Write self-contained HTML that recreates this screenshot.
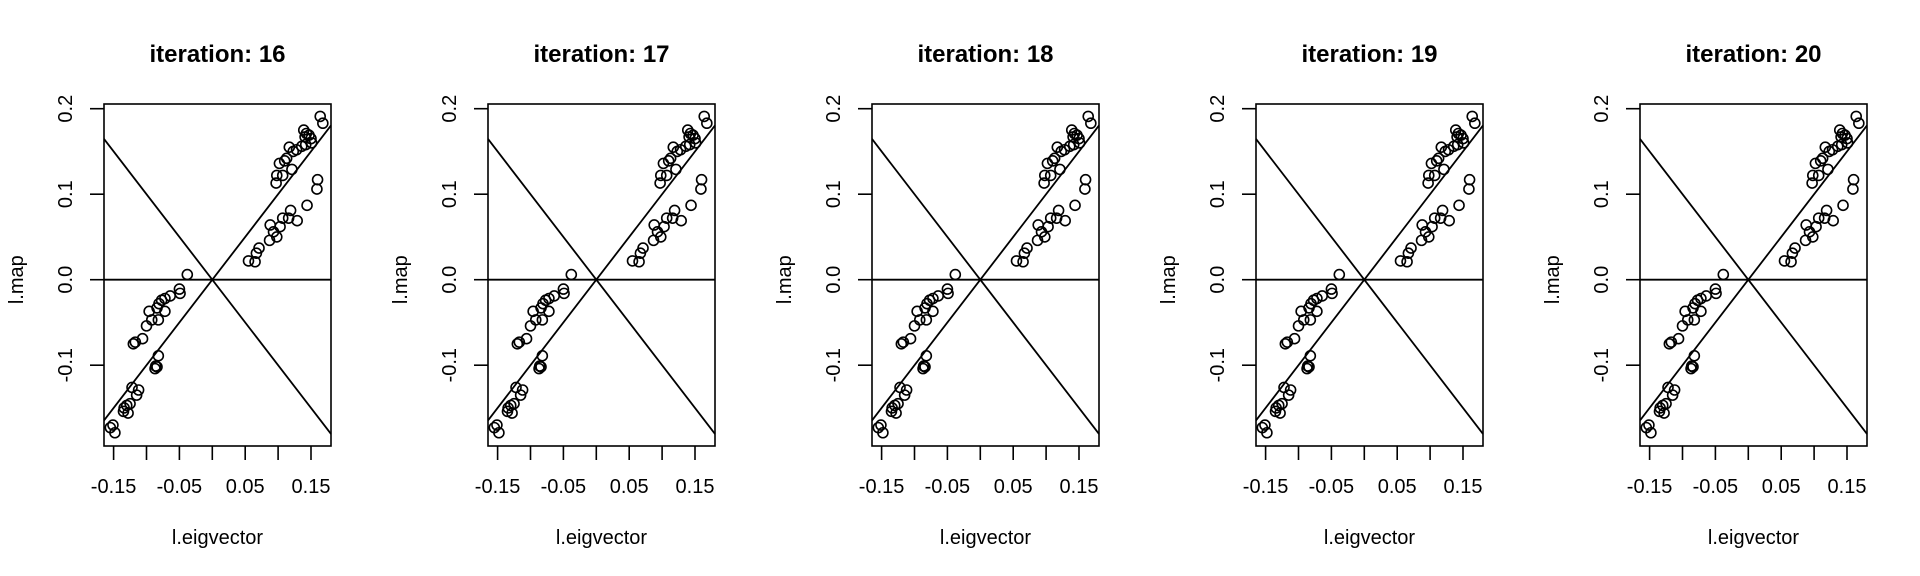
<!DOCTYPE html>
<html><head><meta charset="utf-8"><style>
html,body{margin:0;padding:0;background:#fff;width:1920px;height:576px;overflow:hidden}
svg{display:block}
text{font-family:"Liberation Sans",Arial,sans-serif;fill:#000}
</style></head><body>
<svg id="chart" width="1920" height="576" viewBox="0 0 1920 576" xmlns="http://www.w3.org/2000/svg"></svg>
<script>
const iterations = [16, 17, 18, 19, 20];
const xTicks = [-0.15, -0.10, -0.05, 0.00, 0.05, 0.10, 0.15];
const xTickLabels = ["-0.15", "", "-0.05", "", "0.05", "", "0.15"];
const yTicks = [-0.1, 0.0, 0.1, 0.2];
const yTickLabels = ["-0.1", "0.0", "0.1", "0.2"];
const eigX = [0.164,0.168,0.139,0.143,0.147,0.141,0.150,0.136,0.142,0.151,0.117,0.123,0.128,0.113,0.102,0.110,0.121,0.098,0.107,0.097,0.160,0.159,0.144,0.119,0.129,0.116,0.107,0.103,0.088,0.093,0.098,0.087,0.071,0.067,0.055,0.065,
 -0.038,
 -0.050,-0.049,-0.064,-0.072,-0.077,-0.081,-0.084,-0.072,-0.096,-0.092,-0.082,-0.100,-0.106,-0.117,-0.120,-0.082,-0.086,-0.087,-0.084,
 -0.122,-0.112,-0.115,-0.130,-0.125,-0.135,-0.128,-0.134,-0.151,-0.148,-0.155];
const mapY = [0.191,0.183,0.175,0.171,0.169,0.167,0.165,0.156,0.158,0.160,0.155,0.150,0.152,0.142,0.136,0.139,0.129,0.122,0.122,0.113,0.117,0.106,0.087,0.081,0.069,0.072,0.072,0.062,0.064,0.056,0.050,0.046,0.037,0.031,0.022,0.021,
 0.006,
 -0.011,-0.016,-0.019,-0.022,-0.024,-0.028,-0.033,-0.037,-0.037,-0.047,-0.047,-0.054,-0.069,-0.073,-0.075,-0.089,-0.101,-0.104,-0.102,
 -0.126,-0.129,-0.135,-0.147,-0.145,-0.154,-0.156,-0.150,-0.170,-0.179,-0.173];

const NS = "http://www.w3.org/2000/svg";
const svg = document.getElementById("chart");
function mk(tag, attrs, parent){const e=document.createElementNS(NS,tag);for(const k in attrs)e.setAttribute(k,attrs[k]);parent.appendChild(e);return e;}

const L=104,R=331,T=104,B=446;
const x0=212.3, xs=658, y0=279.7, ys=855;
const xMin=(L-x0)/xs, xMax=(R-x0)/xs;

iterations.forEach((it,i)=>{
  const off=i*384;
  const g=mk("g",{transform:`translate(${off},0)`},svg);
  
  
  const sx=v=>x0+v*xs, sy=v=>y0-v*ys;
  const title=mk("text",{x:217.5,y:62,"text-anchor":"middle","font-size":"24","font-weight":"bold"},g);
  title.textContent="iteration: "+it;
  
  
  const lines=mk("g",{stroke:"#000","stroke-width":"1.8",fill:"none"},g);
  
  
  const l1=mk("line",{x1:sx(xMin),y1:sy(xMin),x2:sx(xMax),y2:sy(xMax)},lines);
  
  
  const l2=mk("line",{x1:sx(xMin),y1:sy(-xMin),x2:sx(xMax),y2:sy(-xMax)},lines);
  
  
  const l3=mk("line",{x1:L,y1:sy(0),x2:R,y2:sy(0)},lines);
  
  
  const pts=mk("g",{stroke:"#000","stroke-width":"1.6",fill:"none"},g);
  
  
  eigX.forEach((xv,j)=>{
    const c=mk("circle",{cx:sx(xv),cy:sy(mapY[j]),r:5},pts);
    
    
  });
  const box=mk("rect",{x:L,y:T,width:R-L,height:B-T,fill:"none",stroke:"#000","stroke-width":"1.6"},g);
  
  
  const xa=mk("g",{stroke:"#000","stroke-width":"1.6"},g);
  
  
  xTicks.forEach((t,k)=>{
    const tk=mk("line",{x1:sx(t),y1:B,x2:sx(t),y2:B+14},xa);
    
    
    if(xTickLabels[k]){
      const tl=mk("text",{x:sx(t),y:493,"text-anchor":"middle","font-size":"20",stroke:"none"},g);
      tl.textContent=xTickLabels[k];
      
      
    }
  });
  const ya=mk("g",{stroke:"#000","stroke-width":"1.6"},g);
  
  
  yTicks.forEach((t,k)=>{
    const tk=mk("line",{x1:L-14,y1:sy(t),x2:L,y2:sy(t)},ya);
    
    
    const tl=mk("text",{x:0,y:0,"text-anchor":"middle","font-size":"20",transform:`translate(72,${sy(t)}) rotate(-90)`},g);
    tl.textContent=yTickLabels[k];
    
    
  });
  const xl=mk("text",{x:217.5,y:544,"text-anchor":"middle","font-size":"20"},g);
  xl.textContent="l.eigvector";
  
  
  const yl=mk("text",{x:0,y:0,"text-anchor":"middle","font-size":"20",transform:`translate(23,${y0}) rotate(-90)`},g);
  yl.textContent="l.map";
  
  
});
</script>
</body></html>
